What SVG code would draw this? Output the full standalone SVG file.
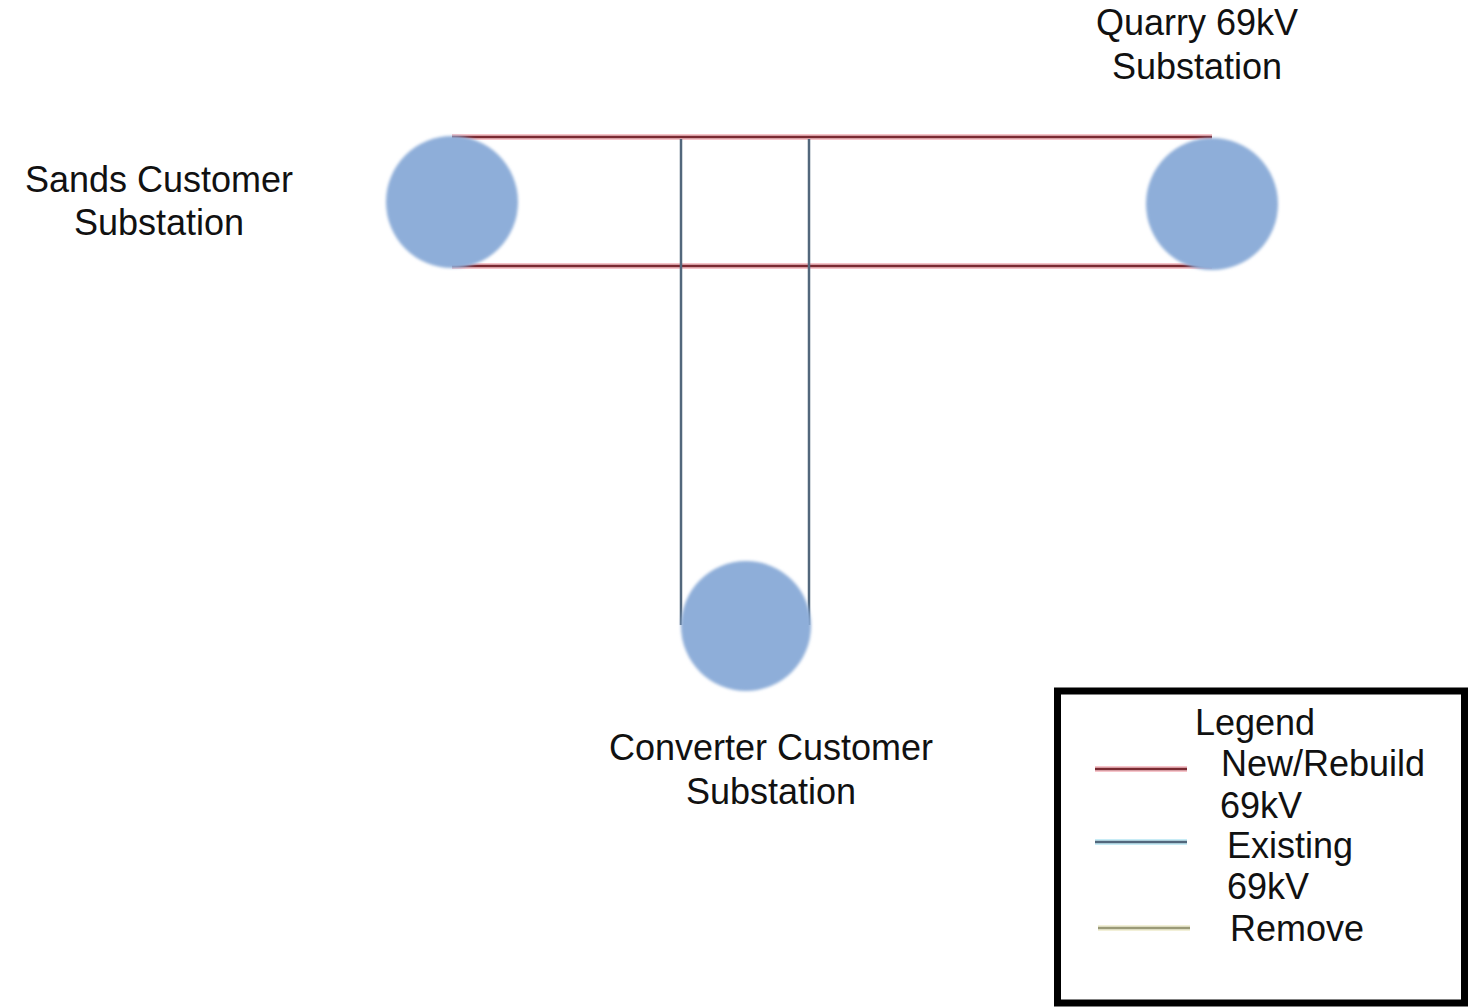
<svg xmlns="http://www.w3.org/2000/svg" width="1474" height="1007" viewBox="0 0 1474 1007">
<defs>
<filter id="soft" x="-10%" y="-10%" width="120%" height="120%"><feGaussianBlur stdDeviation="1.6"/></filter>
<style>
text{font-family:"Liberation Sans",Arial,sans-serif;font-size:36px;fill:#111}
.node{fill:#8eaed9}
.glowR{stroke:#f6c4ca;stroke-width:6;fill:none}
.red{stroke:#7a2a32;stroke-width:2.5;fill:none}
.blue{stroke:#52677c;stroke-width:2.5;fill:none}
.glowB{stroke:#c8ecf6;stroke-width:6;fill:none}
.olive{stroke:#9a9a78;stroke-width:2.5;fill:none}
.glowO{stroke:#f2f0d8;stroke-width:6;fill:none}
</style>
</defs>
<rect width="1474" height="1007" fill="#fff"/>
<g id="connectors">
<line class="glowR" x1="452" y1="137" x2="1212" y2="137"/>
<line class="glowR" x1="452" y1="266" x2="1212" y2="266"/>
<line class="red" x1="452" y1="137" x2="1212" y2="137"/>
<line class="red" x1="452" y1="266" x2="1212" y2="266"/>
<line class="blue" x1="681" y1="139" x2="681" y2="625"/>
<line class="blue" x1="809" y1="139" x2="809" y2="625"/>
</g>
<g id="sands">
<circle class="node" cx="452" cy="202" r="66" filter="url(#soft)"/>
<text x="159" y="192" text-anchor="middle">Sands Customer</text>
<text x="159" y="235" text-anchor="middle">Substation</text>
</g>
<g id="quarry">
<circle class="node" cx="1212" cy="204" r="66" filter="url(#soft)"/>
<text x="1197" y="35" text-anchor="middle">Quarry 69kV</text>
<text x="1197" y="79" text-anchor="middle">Substation</text>
</g>
<g id="converter">
<circle class="node" cx="746" cy="626" r="65" filter="url(#soft)"/>
<text x="771" y="760" text-anchor="middle">Converter Customer</text>
<text x="771" y="804" text-anchor="middle">Substation</text>
</g>
<g id="legend">
<rect x="1057.5" y="691" width="407" height="312" fill="#fff" stroke="#000" stroke-width="7"/>
<text x="1195" y="735">Legend</text>
<line class="glowR" x1="1095" y1="769" x2="1187" y2="769"/>
<line class="red" x1="1095" y1="769" x2="1187" y2="769"/>
<text x="1221" y="776">New/Rebuild</text>
<text x="1220" y="818">69kV</text>
<line class="glowB" x1="1095" y1="842" x2="1187" y2="842"/>
<line class="blue" x1="1095" y1="842" x2="1187" y2="842"/>
<text x="1227" y="858">Existing</text>
<text x="1227" y="899">69kV</text>
<line class="glowO" x1="1098" y1="928" x2="1190" y2="928"/>
<line class="olive" x1="1098" y1="928" x2="1190" y2="928"/>
<text x="1230" y="941">Remove</text>
</g>
</svg>
